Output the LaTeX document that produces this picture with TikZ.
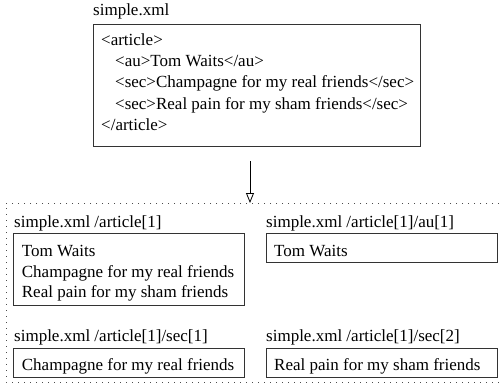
\documentclass[tikz,border=0pt]{standalone}
\usepackage{fontspec}
\setmainfont{Liberation Serif}
\usetikzlibrary{arrows.meta}
\begin{document}
\begin{tikzpicture}[x=1pt,y=-1pt,
  every node/.style={font=\fontsize{17}{21}\selectfont},
  box/.style={draw=black!80, line width=0.8pt, inner sep=0pt, anchor=north west},
  txt/.style={inner sep=0pt, anchor=base west},
  frameline/.style={draw=black!70, line width=1pt, dash pattern=on 1pt off 5pt},
  flow/.style={line width=0.8pt, -{Triangle[open, length=10pt, width=8pt, line width=0.8pt]}}]
\useasboundingbox (0,0) rectangle (500,385);
% top box
\node[txt] (lbltop) at (93,16) {simple.xml};
\node[box, minimum width=327pt, minimum height=122pt] (topbox) at (93,24) {};
\node[txt] (t1) at (101,46) {<article>};
\node[txt] (t2) at (115,67) {<au>Tom Waits</au>};
\node[txt] (t3) at (115,88) {<sec>Champagne for my real friends</sec>};
\node[txt] (t4) at (115,109.5) {<sec>Real pain for my sham friends</sec>};
\node[txt] (t5) at (101,130.5) {</article>};
% frame
\coordinate (ftr) at (499,203);
\coordinate (ftl) at (6,203);
\coordinate (fbl) at (6,382);
\coordinate (fbr) at (499,382);
\coordinate (ftop) at (250,203);
\coordinate (astart) at (250,161);
\draw[frameline] (ftr) -- (ftl) -- (fbl) -- (fbr);
\draw[flow] (astart) -- (ftop);
% box 1
\node[txt] (l1) at (14,227) {simple.xml /article[1]};
\node[box, minimum width=231pt, minimum height=72pt] (b1) at (13,233) {};
\node[txt] (b1a) at (21.7,256) {Tom Waits};
\node[txt] (b1b) at (21.7,277) {Champagne for my real friends};
\node[txt] (b1c) at (21.7,297.5) {Real pain for my sham friends};
% box 2
\node[txt] (l2) at (266,227) {simple.xml /article[1]/au[1]};
\node[box, minimum width=231pt, minimum height=29pt] (b2) at (265.5,233) {};
\node[txt] (b2a) at (274,256) {Tom Waits};
% box 3
\node[txt] (l3) at (14,341.5) {simple.xml /article[1]/sec[1]};
\node[box, minimum width=231pt, minimum height=29pt] (b3) at (13,348) {};
\node[txt] (b3a) at (21.7,370) {Champagne for my real friends};
% box 4
\node[txt] (l4) at (266,341.5) {simple.xml /article[1]/sec[2]};
\node[box, minimum width=231pt, minimum height=29pt] (b4) at (265.5,348) {};
\node[txt] (b4a) at (274,370) {Real pain for my sham friends};
\end{tikzpicture}
\end{document}
